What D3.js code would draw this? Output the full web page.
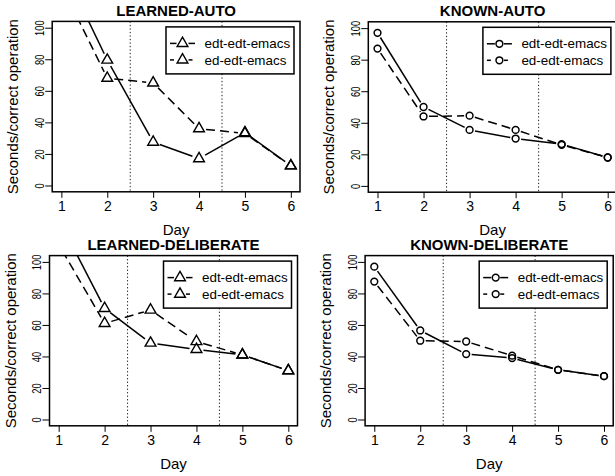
<!DOCTYPE html>
<html><head><meta charset="utf-8">
<script src="https://cdn.jsdelivr.net/npm/d3@7"></script>
<style>
html,body{margin:0;padding:0;background:#fff;}
svg{display:block;}
text{font-family:"Liberation Sans",Arial,Helvetica,sans-serif;fill:#000;}
</style></head>
<body>
<svg id="chart" width="615" height="476"></svg>
<script>
// ---------- data ----------
const days = [1, 2, 3, 4, 5, 6];
const xTicks = [1, 2, 3, 4, 5, 6];
const yTicks = [0, 20, 40, 60, 80, 100];
const seriesNames = ["edt-edt-emacs", "ed-edt-emacs"];
const dividers = [2.5, 4.5];

const panelTitles = ["LEARNED-AUTO", "KNOWN-AUTO", "LEARNED-DELIBERATE", "KNOWN-DELIBERATE"];
const panelMarkers = ["triangle", "circle", "triangle", "circle"];

const learnedAutoEdt = [140, 79.5, 27.5, 17, 33.5, 12.5];
const learnedAutoEd  = [127, 68, 65, 36, 33, 12.5];
const knownAutoEdt   = [97, 50, 35.5, 30, 26.5, 18];
const knownAutoEd    = [87, 44, 44.5, 35.5, 26, 18];
const learnedDelibEdt = [127, 70.5, 48.5, 44.5, 41, 31];
const learnedDelibEd  = [111, 61, 69.5, 49.5, 41, 31];
const knownDelibEdt   = [97, 56.5, 41.5, 39, 31.5, 27.5];
const knownDelibEd    = [87.5, 50, 49.5, 40.5, 31.5, 27.5];

const panelSeries = [
  [learnedAutoEdt, learnedAutoEd],
  [knownAutoEdt, knownAutoEd],
  [learnedDelibEdt, learnedDelibEd],
  [knownDelibEdt, knownDelibEd]
];

// ---------- layout ----------
const boxes = [
  {l: 52.2, r: 300.0, t: 21.4, b: 191.8},
  {l: 368.3, r: 616.9, t: 21.8, b: 192.2},
  {l: 49.5, r: 297.5, t: 255.6, b: 425.8},
  {l: 365.1, r: 613.2, t: 255.6, b: 425.8}
];
const xDomain = [0.8, 6.2];
const yDomain = [-4, 104];
const dashes = [null, "9,5"];

const svg = d3.select("#chart");

function markerPath(type, s) {
  if (type === "triangle") {
    const r = 1.5551 * s, xc = 1.3468 * s, yc = 0.7776 * s;
    return `M0,${-r}L${xc},${yc}L${-xc},${yc}Z`;
  }
  return null;
}

function drawMarker(g, type, x, y) {
  if (type === "triangle") {
    g.append("path").attr("d", markerPath(type, 4.0))
      .attr("transform", `translate(${x},${y})`)
      .attr("fill", "none").attr("stroke", "#000").attr("stroke-width", 1.4)
      .attr("stroke-linejoin", "miter");
  } else {
    g.append("circle").attr("cx", x).attr("cy", y).attr("r", 3.4)
      .attr("fill", "none").attr("stroke", "#000").attr("stroke-width", 1.5);
  }
}

panelTitles.forEach((title, i) => {
  const bx = boxes[i];
  const x = d3.scaleLinear().domain(xDomain).range([bx.l, bx.r]);
  const y = d3.scaleLinear().domain(yDomain).range([bx.b, bx.t]);
  const g = svg.append("g");
  const clipId = "clip" + i;
  svg.append("clipPath").attr("id", clipId).append("rect")
    .attr("x", bx.l).attr("y", bx.t).attr("width", bx.r - bx.l).attr("height", bx.b - bx.t);

  // title
  g.append("text").attr("x", (bx.l + bx.r) / 2).attr("y", bx.t - 5.5)
    .attr("text-anchor", "middle").attr("font-weight", "bold").attr("font-size", 15)
    .text(title);

  // x axis
  const xa = g.append("g").attr("transform", `translate(0,${bx.b})`)
    .call(d3.axisBottom(x).tickValues(xTicks).tickSize(6).tickPadding(3).tickFormat(d3.format("d")));
  xa.select(".domain").remove();
  xa.selectAll("line").attr("stroke", "#000").attr("stroke-width", 1);
  xa.selectAll("text").attr("font-size", 14).attr("fill", "#000")
    .attr("font-family", '"Liberation Sans",Arial,sans-serif')
    .attr("transform", function () { return null; })
    .attr("dy", "0.71em");

  // y axis
  const ya = g.append("g").attr("transform", `translate(${bx.l},0)`)
    .call(d3.axisLeft(y).tickValues(yTicks).tickSize(7).tickFormat(d3.format("d")));
  ya.select(".domain").remove();
  ya.selectAll("line").attr("stroke", "#000").attr("stroke-width", 1);
  ya.selectAll("text").remove();
  ya.selectAll(".tick").append("text")
    .attr("transform", "translate(-13,0) rotate(-90) scale(0.75,1)")
    .attr("text-anchor", "middle").attr("dy", "0.36em")
    .attr("font-size", 12.5).attr("fill", "#000")
    .text(d => d);

  // axis titles
  g.append("text").attr("x", (bx.l + bx.r) / 2).attr("y", bx.b + 43)
    .attr("text-anchor", "middle").attr("font-size", 15).text("Day");
  g.append("text")
    .attr("transform", `translate(${bx.l - 34},${(bx.t + bx.b) / 2}) rotate(-90)`)
    .attr("text-anchor", "middle").attr("font-size", 15).text("Seconds/correct operation");

  // dividers
  dividers.forEach(dv => {
    g.append("line").attr("x1", x(dv)).attr("x2", x(dv)).attr("y1", bx.t).attr("y2", bx.b)
      .attr("stroke", "#000").attr("stroke-width", 0.9).attr("stroke-dasharray", "1.3,2.2");
  });

  // series
  const plot = g.append("g").attr("clip-path", `url(#${clipId})`);
  const mtype = panelMarkers[i];
  const gap = mtype === "triangle" ? 7 : 5.5;
  panelSeries[i].forEach((vals, si) => {
    const pts = days.map((d, k) => [x(d), y(vals[k])]);
    for (let k = 0; k < pts.length - 1; k++) {
      const [x0, y0] = pts[k], [x1, y1] = pts[k + 1];
      const len = Math.hypot(x1 - x0, y1 - y0);
      if (len <= 2 * gap) continue;
      const ux = (x1 - x0) / len, uy = (y1 - y0) / len;
      plot.append("line")
        .attr("x1", x0 + ux * gap).attr("y1", y0 + uy * gap)
        .attr("x2", x1 - ux * gap).attr("y2", y1 - uy * gap)
        .attr("stroke", "#000").attr("stroke-width", 1.5)
        .attr("stroke-dasharray", dashes[si]);
    }
    pts.forEach(p => drawMarker(plot, mtype, p[0], p[1]));
  });

  // box
  g.append("rect").attr("x", bx.l).attr("y", bx.t).attr("width", bx.r - bx.l).attr("height", bx.b - bx.t)
    .attr("fill", "none").attr("stroke", "#000").attr("stroke-width", 1.5);

  // legend
  const lw = 128, lh = 47;
  const lx = bx.r - 6 - lw, ly = bx.t + 5.5;
  const lg = g.append("g");
  lg.append("rect").attr("x", lx).attr("y", ly).attr("width", lw).attr("height", lh)
    .attr("fill", "#fff").attr("stroke", "#000").attr("stroke-width", 1.5);
  seriesNames.forEach((name, si) => {
    const ry = ly + 16.5 + si * 16.5;
    const mx = lx + 16.5;
    const segs = [[lx + 4, mx - gap + 1], [mx + gap - 1, lx + 29]];
    segs.forEach(sg => {
      lg.append("line").attr("x1", sg[0]).attr("x2", sg[1]).attr("y1", ry).attr("y2", ry)
        .attr("stroke", "#000").attr("stroke-width", 1.5)
        .attr("stroke-dasharray", si === 1 ? "4,4" : null);
    });
    drawMarker(lg, mtype, mx, ry);
    lg.append("text").attr("x", lx + 38.5).attr("y", ry).attr("dy", "0.35em")
      .attr("font-size", 13.4).text(name);
  });
});
</script>
</body></html>
